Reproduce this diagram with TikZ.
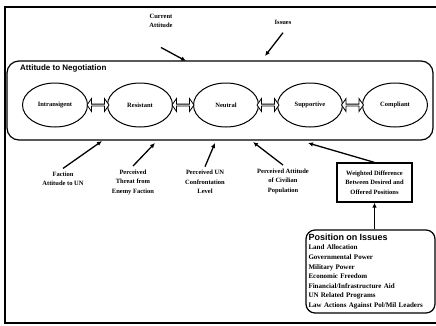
\documentclass[tikz,border=0pt]{standalone}
\usepackage{fontspec}
\setmainfont{Liberation Serif}
\newfontfamily\titlefont{Liberation Sans}
\usetikzlibrary{arrows.meta,positioning}
\usetikzlibrary{shapes.geometric,shapes.arrows}
\tikzset{
    attitude/.style={ellipse, draw, line width=1pt, minimum width=65pt, minimum height=44pt,
        inner sep=0pt, font=\bfseries\fontsize{6.5}{8}\selectfont}, % the five states
    link/.style={double arrow, draw, line width=0.8pt, fill=white, minimum width=13pt,
        minimum height=22pt, double arrow head extend=2.5pt, double arrow tip angle=110,
        inner sep=0pt}, % hollow two-way arrows
    factor/.style={align=center, font=\bfseries\fontsize{6.5}{9.5}\selectfont},
    influence/.style={-{Latex[length=5pt,width=4.5pt]}, line width=1.3pt},
}

\begin{document}
\begin{tikzpicture}[x=1pt,y=-1pt]
  \useasboundingbox (0,0) rectangle (436,325);
  % outer frame
  \draw[line width=1.3pt] (5,7) rectangle (450,323);

  % Attitude to Negotiation
  \node[draw, line width=1.2pt, rounded corners=12pt, minimum width=426pt,
      minimum height=79pt] (negotiation) at (220,100.5) {};
  \node[anchor=north west, inner sep=0pt,
      font=\titlefont\bfseries\fontsize{8}{10}\selectfont] (negtitle) at (20,64) {Attitude to Negotiation};

  \node[attitude] (intr) at (55,105)  {Intransigent};
  \node[attitude] (resi) at (140,105) {Resistant};
  \node[attitude] (neut) at (226,105) {Neutral};
  \node[attitude] (supp) at (310,105) {Supportive};
  \node[attitude] (comp) at (395,105) {Compliant};
  \node[link] (l_1) at (98,105)  {};
  \node[link] (l_2) at (183,105) {};
  \node[link] (l_3) at (268,105) {};
  \node[link] (l_4) at (352.5,105) {};

  % inputs from above
  \node[factor] (current) at (161,21) {Current\\Attitude};
  \node[factor] (issin)   at (283,22) {Issues};
  \coordinate (c_in) at (186,61);
  \coordinate (i_in) at (265,56);
  \path[influence]
    ([yshift=-16pt]current.south) edge (c_in)
    ([yshift=-5pt]issin.south)    edge (i_in);

  % inputs from below
  \node[factor] (faction) at (63,179)  {Faction\\Attitude to UN};
  \node[factor] (threat)  at (133,182) {Perceived\\Threat from\\Enemy Faction};
  \node[factor] (confr)   at (205,182) {Perceived UN\\Confrontation\\Level};
  \node[factor] (civil)   at (283,181) {Perceived Attitude\\of Civilian\\Population};
  \node[factor, draw, line width=1.2pt, minimum width=75pt, minimum height=39pt,
      inner sep=2pt] (weighted) at (374.5,182.5) {Weighted Difference\\Between Desired and\\Offered Positions};
  \coordinate (f_in) at (102,141);
  \coordinate (t_in) at (155,143);
  \coordinate (u_in) at (215,143);
  \coordinate (p_in) at (253,142);
  \coordinate (w_in) at (308,143);
  \path[influence]
    (faction.north)  edge (f_in)
    (threat.north)   edge (t_in)
    (confr.north)    edge (u_in)
    (civil.north)    edge (p_in)
    (weighted.north) edge (w_in);

  % Position on Issues
  \node[draw, line width=1.2pt, rounded corners=9pt, align=left, text width=124pt,
      inner xsep=2.5pt, inner ysep=3pt, minimum height=83pt,
      font=\bfseries\fontsize{7}{9.6}\selectfont] (issues) at (370.5,271.5)
      {{\titlefont\fontsize{9}{11}\selectfont Position on Issues}\\
       Land Allocation\\
       Governmental Power\\
       Military Power\\
       Economic Freedom\\
       Financial/Infrastructure Aid\\
       UN Related Programs\\
       Law Actions Against Pol/Mil Leaders};
  \draw[influence] (issues.north -| weighted.south) -- (weighted.south);
\end{tikzpicture}
\end{document}
